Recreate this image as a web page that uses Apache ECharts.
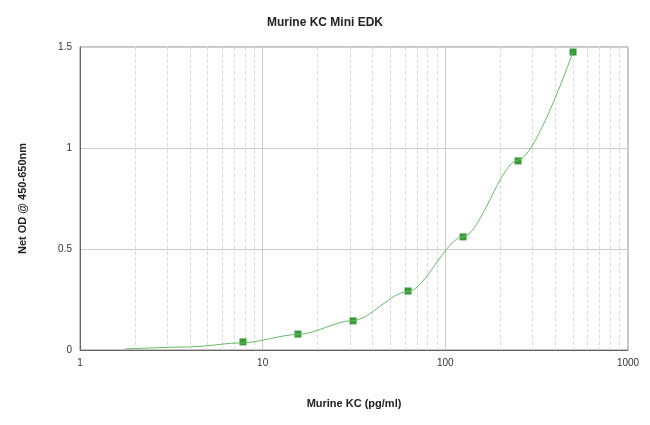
<!DOCTYPE html>
<html><head><meta charset="utf-8">
<script src="https://cdn.jsdelivr.net/npm/echarts@6/dist/echarts.min.js"></script>
<style>html,body{margin:0;background:#fff}#c{width:650px;height:425px}</style>
</head><body><div id="c"></div>
<script>
const concentrations = [7.8, 15.6, 31.25, 62.5, 125, 250, 500];
const odValues = [0.04, 0.079, 0.144, 0.292, 0.56, 0.936, 1.475];
const curveX = [1.76, 3.9, 7.8, 15.6, 31.25, 62.5, 125, 250, 500];
const curveY = [0.005, 0.015, 0.036, 0.077, 0.146, 0.29, 0.56, 0.94, 1.475];
const yTicks = [0, 0.5, 1, 1.5];
const chart = echarts.init(document.getElementById('c'));
chart.setOption({
  animation: false,
  title: {text: 'Murine KC Mini EDK', left: 'center', top: 12,
    textStyle: {fontSize: 12, fontWeight: 'bold', color: '#222', fontFamily: 'Liberation Sans'}},
  grid: {left: 80, right: 22, top: 47, bottom: 75, show: true, borderColor: '#888', borderWidth: 1},
  xAxis: {type: 'log', logBase: 10, min: 1, max: 1000,
    name: 'Murine KC (pg/ml)', nameLocation: 'middle', nameGap: 48,
    nameTextStyle: {fontSize: 11, fontWeight: 'bold', color: '#222', fontFamily: 'Liberation Sans'},
    axisLine: {lineStyle: {color: '#666'}}, axisTick: {show: false},
    axisLabel: {fontSize: 10, color: '#333', formatter: v => String(Math.round(v))},
    splitLine: {show: true, lineStyle: {color: '#ccc'}},
    minorTick: {show: false, splitNumber: 9},
    minorSplitLine: {show: true, lineStyle: {color: '#ddd', type: 'dashed'}}},
  yAxis: {type: 'value', min: 0, max: 1.5, interval: 0.5,
    name: 'Net OD @ 450-650nm', nameLocation: 'middle', nameGap: 52,
    nameTextStyle: {fontSize: 11, fontWeight: 'bold', color: '#222', fontFamily: 'Liberation Sans'},
    axisLine: {show: true, lineStyle: {color: '#666'}}, axisTick: {show: false},
    axisLabel: {fontSize: 10, color: '#333', formatter: v => yTicks.includes(v) ? String(v) : ''},
    splitLine: {lineStyle: {color: '#ccc'}}},
  series: [
    {type: 'line', data: curveX.map((x, i) => [x, curveY[i]]), smooth: 0.3, smoothMonotone: 'x', showSymbol: false,
      lineStyle: {color: '#66bb66', width: 1}},
    {type: 'scatter', data: concentrations.map((x, i) => [x, odValues[i]]), symbol: 'rect',
      symbolSize: 7, itemStyle: {color: '#068206'}}
  ]
});
</script></body></html>
